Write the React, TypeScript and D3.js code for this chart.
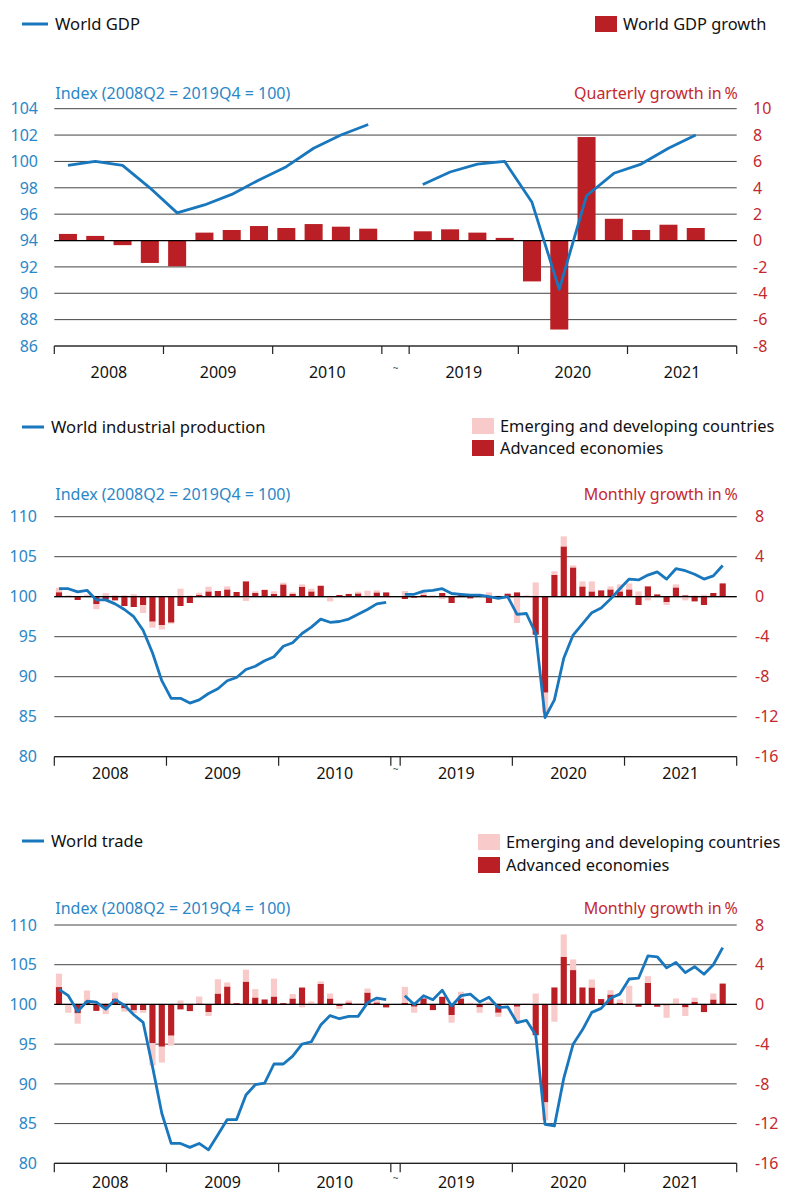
import * as React from 'react';
import * as d3 from 'd3';

const FONT = '"Noto Sans", sans-serif';
const LINE_BLUE = '#1877bd';
const TEXT_BLUE = '#2a87c8';
const BAR_RED = '#ba1f25';
const BAR_PINK = '#f8caca';
const TEXT_RED = '#c4282f';
const GRID = '#444';

const X0 = 54.3;
const X1 = 736.7;

const yearsLeft = ['2008', '2009', '2010'];
const yearsRight = ['2019', '2020', '2021'];

// World GDP, quarterly
const gdpIndex2008_10 = [99.7, 100.0, 99.7, 98.0, 96.1, 96.7, 97.5, 98.6, 99.6, 101.0, 102.0, 102.8];
const gdpIndex2019_21 = [98.25, 99.2, 99.8, 100.0, 96.9, 90.3, 97.4, 99.1, 99.8, 101.0, 102.0];
const gdpGrowth2008_10 = [0.5, 0.35, -0.35, -1.7, -1.95, 0.6, 0.8, 1.1, 0.95, 1.25, 1.05, 0.9];
const gdpGrowth2019_21 = [0.7, 0.85, 0.6, 0.2, -3.1, -6.75, 7.85, 1.65, 0.8, 1.2, 0.95];

// World industrial production, monthly
const ipIndex2008_10 = [101.0, 101.0, 100.6, 100.8, 99.6, 99.6, 99.1, 98.4, 97.5, 95.8, 93.0, 89.5,
  87.3, 87.3, 86.7, 87.1, 87.9, 88.5, 89.5, 89.9, 90.9, 91.3, 92.0, 92.5,
  93.8, 94.25, 95.4, 96.2, 97.2, 96.8, 96.9, 97.2, 97.8, 98.4, 99.1, 99.3];
const ipAdv2008_10 = [0.45, 0, -0.33, 0, -0.75, -0.3, -0.37, -0.93, -1.03, -0.83, -2.5, -2.83,
  -2.6, -0.93, -0.63, 0.17, 0.53, 0.57, 0.73, 0.47, 1.53, 0.37, 0.67, 0.27,
  1.23, 0.3, 0.97, 0.53, 1.1, 0, 0.17, 0.27, 0.33, 0, 0.43, 0.43];
const ipEm2008_10 = [0.45, 0.15, 0, 0.2, -0.5, 0.35, 0.15, 0.15, 0.25, -0.8, -0.6, -0.45,
  -0.1, 0.8, 0.13, 0.23, 0.47, 0, 0.3, 0, -0.43, 0.17, 0.07, 0.27,
  0.17, 0.13, 0.27, 0.27, 0.07, -0.47, 0, 0.03, 0.17, 0.6, 0.2, -0.13];
const ipIndex2019_21 = [100.3, 100.3, 100.7, 100.8, 101.0, 100.4, 100.3, 100.2, 100.2, 100.0, 99.8, 100.0,
  97.8, 97.9, 95.4, 84.9, 87.1, 92.3, 95.2, 96.6, 98.0, 98.6, 99.7, 101.0,
  102.2, 102.1, 102.7, 103.1, 102.2, 103.5, 103.25, 102.8, 102.2, 102.6, 103.9];
const ipAdv2019_21 = [-0.23, -0.1, 0.17, 0, 0.37, -0.63, 0.17, -0.17, 0.1, -0.63, 0, 0.3,
  0.43, 0, -3.8, -9.6, 2.17, 5.03, 2.93, 1.03, 0.53, 0.63, 0.73, 0.53,
  0.73, -0.83, 1.03, 0.23, -0.53, 0.93, 0.13, -0.47, -0.83, 0.37, 1.33];
const ipEm2019_21 = [0.57, 0, 0.27, 0.13, -0.23, 0, 0, 0, 0, 0.43, 0.1, -0.17,
  -2.63, 0.13, 1.43, -2.0, 0.37, 1.0, 0.2, 0.5, 1.0, 0, 0.3, 0.7,
  0.6, 0.53, -0.37, 0, -0.3, 0.3, -0.37, 0.13, 0.2, 0, 0];

// World trade, monthly
const trIndex2008_10 = [101.9, 101.1, 99.1, 100.4, 100.3, 99.4, 100.6, 99.9, 98.7, 97.75, 92.2, 86.3,
  82.5, 82.5, 82.0, 82.5, 81.7, 83.6, 85.5, 85.5, 88.6, 89.9, 90.1, 92.5,
  92.5, 93.5, 95.0, 95.3, 97.4, 98.6, 98.2, 98.5, 98.5, 100.2, 100.8, 100.6];
const trAdv2008_10 = [1.75, 0, -0.9, 0.3, -0.65, -0.4, 0.6, -0.4, -0.6, -0.57, -3.9, -4.26,
  -3.15, -0.5, -0.67, 0.1, -0.77, 1.1, 1.81, 0.13, 2.3, 0.7, 0.5, 0.8,
  0.13, 0.6, 1.7, 0, 2.08, 0.6, -0.17, 0.2, 0, 1.2, 0.2, -0.3];
const trEm2008_10 = [1.35, -0.84, -1.04, 1.1, 0.2, -0.57, 0.6, -0.33, -0.27, -0.27, -2.25, -1.6,
  -1.0, 0.4, 0.1, 0.7, -0.4, 1.44, 0.4, 0, 1.2, 0.84, 0, 1.8,
  0, 0.44, -0.3, 0.3, 0.24, 0.5, -0.27, 0.2, 0.1, 0.4, 0.23, 0];
const trIndex2019_21 = [101.1, 100.0, 101.1, 100.6, 101.8, 99.8, 101.1, 101.3, 100.3, 100.9, 99.6, 99.7,
  97.7, 98.0, 96.15, 84.9, 84.7, 90.7, 95.0, 96.8, 99.0, 99.5, 100.8, 101.3,
  103.2, 103.3, 106.1, 106.0, 104.6, 105.3, 104.0, 104.75, 103.8, 105.0, 107.15];
const trAdv2019_21 = [0.17, -0.23, 0.6, -0.57, 0.77, -1.07, 0.6, 0, -0.3, 0, -0.84, 0,
  -0.23, 0, -3.1, -9.87, 1.71, 4.8, 3.46, 1.71, 1.71, 0.54, 1.0, 0.17,
  0, -0.23, 2.18, -0.23, -0.1, 0, -0.3, 0.27, -0.77, 0.5, 2.1];
const trEm2019_21 = [1.6, -0.6, 0, 0, 0, -0.77, 0.67, 0.17, -0.54, 0.27, -0.4, 0.1,
  -1.7, 0.1, 1.1, -1.8, -1.74, 2.25, 1.07, 0, 0.8, 0, 0.44, 0.33,
  1.88, 0, 0.67, 0, -1.24, 0.6, -0.87, 0.4, 0, 0.6, 0];

const gdpIndexTicks = [86, 88, 90, 92, 94, 96, 98, 100, 102, 104];
const gdpGrowthTicks = [-8, -6, -4, -2, 0, 2, 4, 6, 8, 10];
const monthlyIndexTicks = [80, 85, 90, 95, 100, 105, 110];
const monthlyGrowthTicks = [-16, -12, -8, -4, 0, 4, 8];

const periodKeys = (years: string[], n: number) =>
  years.flatMap(y => d3.range(n).map(i => `${y}-${i}`));

type Row = { key: string; idx: number; adv: number; em: number };

function Panel(props: any) {
  const {perYear, idxL, idxR, advL, advR, emL, emR, idxTicks, grTicks,
    top, bottom, titleY, labelY, growthTitle, leftLabelX, rightLabelX, tickLen, barFrac} = props;

  const keysL = periodKeys(yearsLeft, perYear);
  const keysR = periodKeys(yearsRight, perYear);
  const x = d3.scaleBand<string>().domain([...keysL, 'gap', ...keysR]).range([X0, X1]);
  const bw = x.bandwidth();
  const yIdx = d3.scaleLinear().domain(d3.extent(idxTicks) as [number, number]).range([bottom, top]);
  const yGr = d3.scaleLinear().domain(d3.extent(grTicks) as [number, number]).range([bottom, top]);

  const rowsL: Row[] = idxL.map((v: number, i: number) => ({key: keysL[i], idx: v, adv: advL[i], em: emL ? emL[i] : 0}));
  const rowsR: Row[] = idxR.map((v: number, i: number) => ({key: keysR[i], idx: v, adv: advR[i], em: emR ? emR[i] : 0}));
  const rows = [...rowsL, ...rowsR];
  const stacked = d3.stack<Row>().keys(['adv', 'em']).offset(d3.stackOffsetDiverging)(rows as any);

  const line = d3.line<Row>().x(d => (x(d.key) as number) + bw / 2).y(d => yIdx(d.idx));

  const yearTicks = [
    ...yearsLeft.map(y => x(`${y}-0`) as number), (x(`${yearsLeft[2]}-${perYear - 1}`) as number) + bw,
    ...yearsRight.map(y => x(`${y}-0`) as number), X1,
  ];
  const yearMid = (y: string) => ((x(`${y}-0`) as number) + (x(`${y}-${perYear - 1}`) as number) + bw) / 2;
  const gapMid = (x('gap') as number) + bw / 2;
  const zeroY = yGr(0);

  return (
    <g fontFamily={FONT}>
      {idxTicks.map((t: number) => (
        <line key={'g' + t} x1={X0} x2={X1} y1={yIdx(t)} y2={yIdx(t)} stroke={GRID} strokeWidth={1} />
      ))}
      {stacked.map((s, si) => (
        <g key={s.key} fill={si === 0 ? BAR_RED : BAR_PINK}>
          {s.map((d: any, i) => {
            const y0 = yGr(d[0]), y1 = yGr(d[1]);
            if (Math.abs(y1 - y0) < 0.01) return null;
            return (
              <rect key={i} x={(x(rows[i].key) as number) + bw * (1 - barFrac) / 2} width={bw * barFrac}
                y={Math.min(y0, y1)} height={Math.abs(y1 - y0)} />
            );
          })}
        </g>
      ))}
      <line x1={X0} x2={X1} y1={zeroY} y2={zeroY} stroke="#000" strokeWidth={1.2} />
      <line x1={X0} x2={X1} y1={bottom} y2={bottom} stroke="#222" strokeWidth={1.2} />
      {yearTicks.map((t, i) => (
        <line key={'t' + i} x1={t} x2={t} y1={bottom} y2={bottom + tickLen} stroke="#222" strokeWidth={1.2} />
      ))}
      <path d={line(rowsL) || ''} fill="none" stroke={LINE_BLUE} strokeWidth={2.8} strokeLinejoin="round" />
      <path d={line(rowsR) || ''} fill="none" stroke={LINE_BLUE} strokeWidth={2.8} strokeLinejoin="round" />

      {idxTicks.map((t: number) => (
        <text key={'l' + t} x={leftLabelX} y={yIdx(t)} dy="0.36em" textAnchor="end" fontSize={16} fill={TEXT_BLUE}>{t}</text>
      ))}
      {grTicks.map((t: number) => (
        <text key={'r' + t} x={rightLabelX} y={yGr(t)} dy="0.36em" fontSize={16} fill={TEXT_RED}>{t}</text>
      ))}
      {[...yearsLeft, ...yearsRight].map(y => (
        <text key={'y' + y} x={yearMid(y)} y={labelY} textAnchor="middle" fontSize={16} fill="#111">{y}</text>
      ))}
      <text x={gapMid} y={labelY - 6} textAnchor="middle" fontSize={10} fill="#555">~</text>
      <text x={X0 + 1} y={titleY} fontSize={16} fill={TEXT_BLUE}>Index (2008Q2 = 2019Q4 = 100)</text>
      <text x={X1 + 1} y={titleY} textAnchor="end" fontSize={16} fill={TEXT_RED}>{growthTitle}</text>
    </g>
  );
}

function LineLegend({x1, x2, y, label}: any) {
  return (
    <g fontFamily={FONT}>
      <line x1={x1} x2={x2} y1={y} y2={y} stroke={LINE_BLUE} strokeWidth={3} />
      <text x={x2 + 7} y={y + 6} fontSize={16.6} fill="#111">{label}</text>
    </g>
  );
}

function SwatchLegend({x, y, color, label}: any) {
  return (
    <g fontFamily={FONT}>
      <rect x={x} y={y} width={22} height={16} fill={color} />
      <text x={x + 28} y={y + 13.5} fontSize={16.4} fill="#111">{label}</text>
    </g>
  );
}

export default function App() {
  return (
    <svg width={787} height={1193} style={{position: 'absolute', left: 0, top: 0, background: '#fff'}}>
      <LineLegend x1={22} x2={48} y={24} label="World GDP" />
      <SwatchLegend x={595} y={16} color={BAR_RED} label="World GDP growth" />
      <Panel perYear={4} idxL={gdpIndex2008_10} idxR={gdpIndex2019_21}
        advL={gdpGrowth2008_10} advR={gdpGrowth2019_21}
        idxTicks={gdpIndexTicks} grTicks={gdpGrowthTicks}
        top={108.7} bottom={346} titleY={99} labelY={378}
        growthTitle={'Quarterly growth in\u2009%'} leftLabelX={38} rightLabelX={753} tickLen={8} barFrac={0.66} />

      <LineLegend x1={22} x2={44} y={427} label="World industrial production" />
      <SwatchLegend x={472} y={418} color={BAR_PINK} label="Emerging and developing countries" />
      <SwatchLegend x={472} y={440} color={BAR_RED} label="Advanced economies" />
      <Panel perYear={12} idxL={ipIndex2008_10} idxR={ipIndex2019_21}
        advL={ipAdv2008_10} advR={ipAdv2019_21} emL={ipEm2008_10} emR={ipEm2019_21}
        idxTicks={monthlyIndexTicks} grTicks={monthlyGrowthTicks}
        top={516.7} bottom={756.7} titleY={500} labelY={779}
        growthTitle={'Monthly growth in\u2009%'} leftLabelX={37} rightLabelX={755} tickLen={9} barFrac={0.66} />

      <LineLegend x1={22} x2={44} y={841} label="World trade" />
      <SwatchLegend x={478} y={834} color={BAR_PINK} label="Emerging and developing countries" />
      <SwatchLegend x={478} y={857} color={BAR_RED} label="Advanced economies" />
      <Panel perYear={12} idxL={trIndex2008_10} idxR={trIndex2019_21}
        advL={trAdv2008_10} advR={trAdv2019_21} emL={trEm2008_10} emR={trEm2019_21}
        idxTicks={monthlyIndexTicks} grTicks={monthlyGrowthTicks}
        top={925} bottom={1163.3} titleY={914} labelY={1188}
        growthTitle={'Monthly growth in\u2009%'} leftLabelX={37} rightLabelX={755} tickLen={9} barFrac={0.66} />
    </svg>
  );
}
